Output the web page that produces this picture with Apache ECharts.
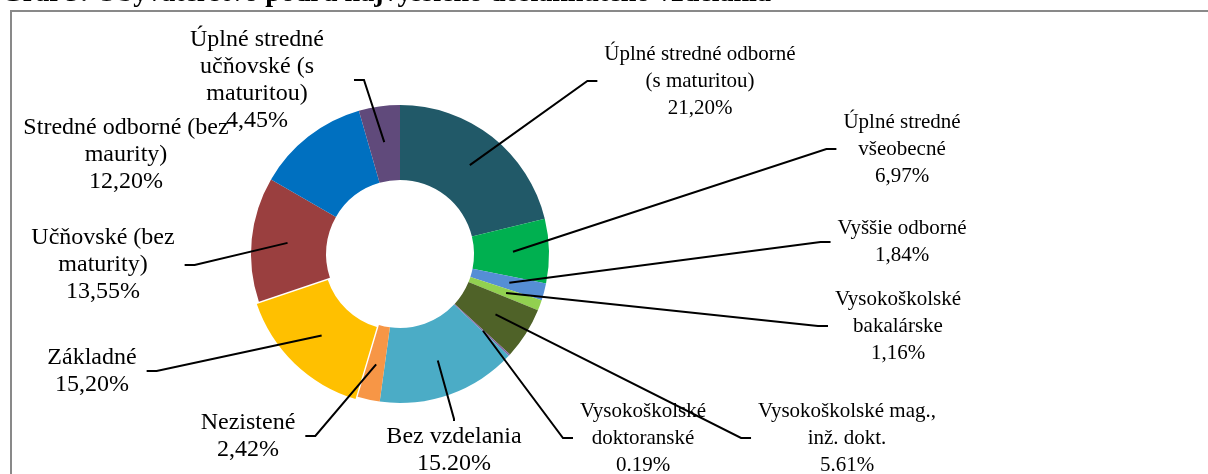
<!DOCTYPE html>
<html>
<head>
<meta charset="utf-8">
<script src="https://cdn.jsdelivr.net/npm/echarts@6/dist/echarts.min.js"></script>
<style>
  html, body { margin: 0; padding: 0; background: #fff; }
  #chart { width: 1208px; height: 474px; }
</style>
</head>
<body>
<div id="chart"></div>
<script>
// Graf 5: Obyvateľstvo podľa najvyššieho dosiahnutého vzdelania
var names = [
  'Úplné stredné odborné\n(s maturitou)',
  'Úplné stredné\nvšeobecné',
  'Vyššie odborné',
  'Vysokoškolské\nbakalárske',
  'Vysokoškolské mag.,\ninž. dokt.',
  'Vysokoškolské\ndoktoranské',
  'Bez vzdelania',
  'Nezistené',
  'Základné',
  'Učňovské (bez\nmaturity)',
  'Stredné odborné (bez\nmaurity)',
  'Úplné stredné\nučňovské (s\nmaturitou)'
]
var values = [21.20, 6.97, 1.84, 1.16, 5.61, 0.19, 15.20, 2.42, 15.20, 13.55, 12.20, 4.45]
// desatinný oddeľovač tak, ako je v pôvodnom grafe
var separators = [',', ',', ',', ',', '.', '.', '.', ',', ',', ',', ',', ',']

var colors = ['#215968', '#00B050', '#558ED5', '#92D050', '#4F6228', '#8064A2',
  '#4BACC6', '#F79646', '#FFC000', '#9A3F3F', '#0070C0', '#604A7B']

// stred textu popisu (px) a veľkosť písma popisu
var labelPos = [[700, 81], [902, 149], [902, 242], [898, 326], [847, 438], [643, 438],
  [454, 450], [248, 436], [92, 371], [103, 265], [126, 155], [257, 80]]
var labelSize = [21, 21, 21, 21, 21, 21, 24, 24, 24, 24, 24, 24]

var center = [400, 254]

var chart = echarts.init(document.getElementById('chart'))

var ringData = []
var labelData = []
for (var i = 0; i < values.length; i++) {
  ringData.push({
    name: names[i],
    value: values[i],
    itemStyle: { color: colors[i] },
    selected: i === 8
  })
  var pad = [2, 7]
  if (labelSize[i] === 24) pad = [2, 10]
  if (i === 11) pad = [0, 30]
  labelData.push({
    name: names[i],
    value: values[i],
    label: { padding: pad, fontSize: labelSize[i] },
    labelLine: { show: i !== 10, length2: i === 6 ? 2 : 10 }
  })
}

var option = {
  animation: false,
  title: {
    text: 'Graf 5: Obyvateľstvo podľa najvyššieho dosiahnutého vzdelania',
    left: 1,
    top: -20,
    padding: 0,
    textStyle: {
      fontFamily: 'Liberation Serif',
      fontWeight: 'bold',
      fontSize: 28,
      color: '#000'
    }
  },
  graphic: [
    {
      type: 'rect',
      z: -10,
      shape: { x: 11, y: 11, width: 1400, height: 600 },
      style: { fill: 'none', stroke: '#898989', lineWidth: 2 }
    }
  ],
  series: [
    {
      type: 'pie',
      z: 1,
      center: center,
      radius: [74, 149],
      startAngle: 90,
      selectedMode: 'multiple',
      selectedOffset: 3,
      silent: true,
      label: { show: false },
      labelLine: { show: false },
      data: ringData
    },
    {
      // neviditeľný koláč len pre popisy, aby čiary začínali vo vnútri prstenca
      type: 'pie',
      z: 5,
      center: center,
      radius: [0, 113],
      startAngle: 90,
      silent: true,
      avoidLabelOverlap: false,
      itemStyle: { color: 'rgba(0,0,0,0)' },
      label: {
        show: true,
        position: 'outside',
        fontFamily: 'Liberation Serif',
        fontSize: 20,
        lineHeight: 27,
        color: '#000',
        align: 'center',
        formatter: function(p) {
          var txt = values[p.dataIndex].toFixed(2).replace('.', separators[p.dataIndex])
          return p.name + '\n' + txt + '%'
        }
      },
      labelLine: {
        show: true,
        length: 10,
        length2: 10,
        lineStyle: { color: '#000', width: 2 }
      },
      labelLayout: function(params) {
        var pos = labelPos[params.dataIndex]
        return {
          x: pos[0],
          y: pos[1],
          align: 'center',
          verticalAlign: 'middle'
        }
      },
      data: labelData
    }
  ]
}
chart.setOption(option)
</script>
</body>
</html>
